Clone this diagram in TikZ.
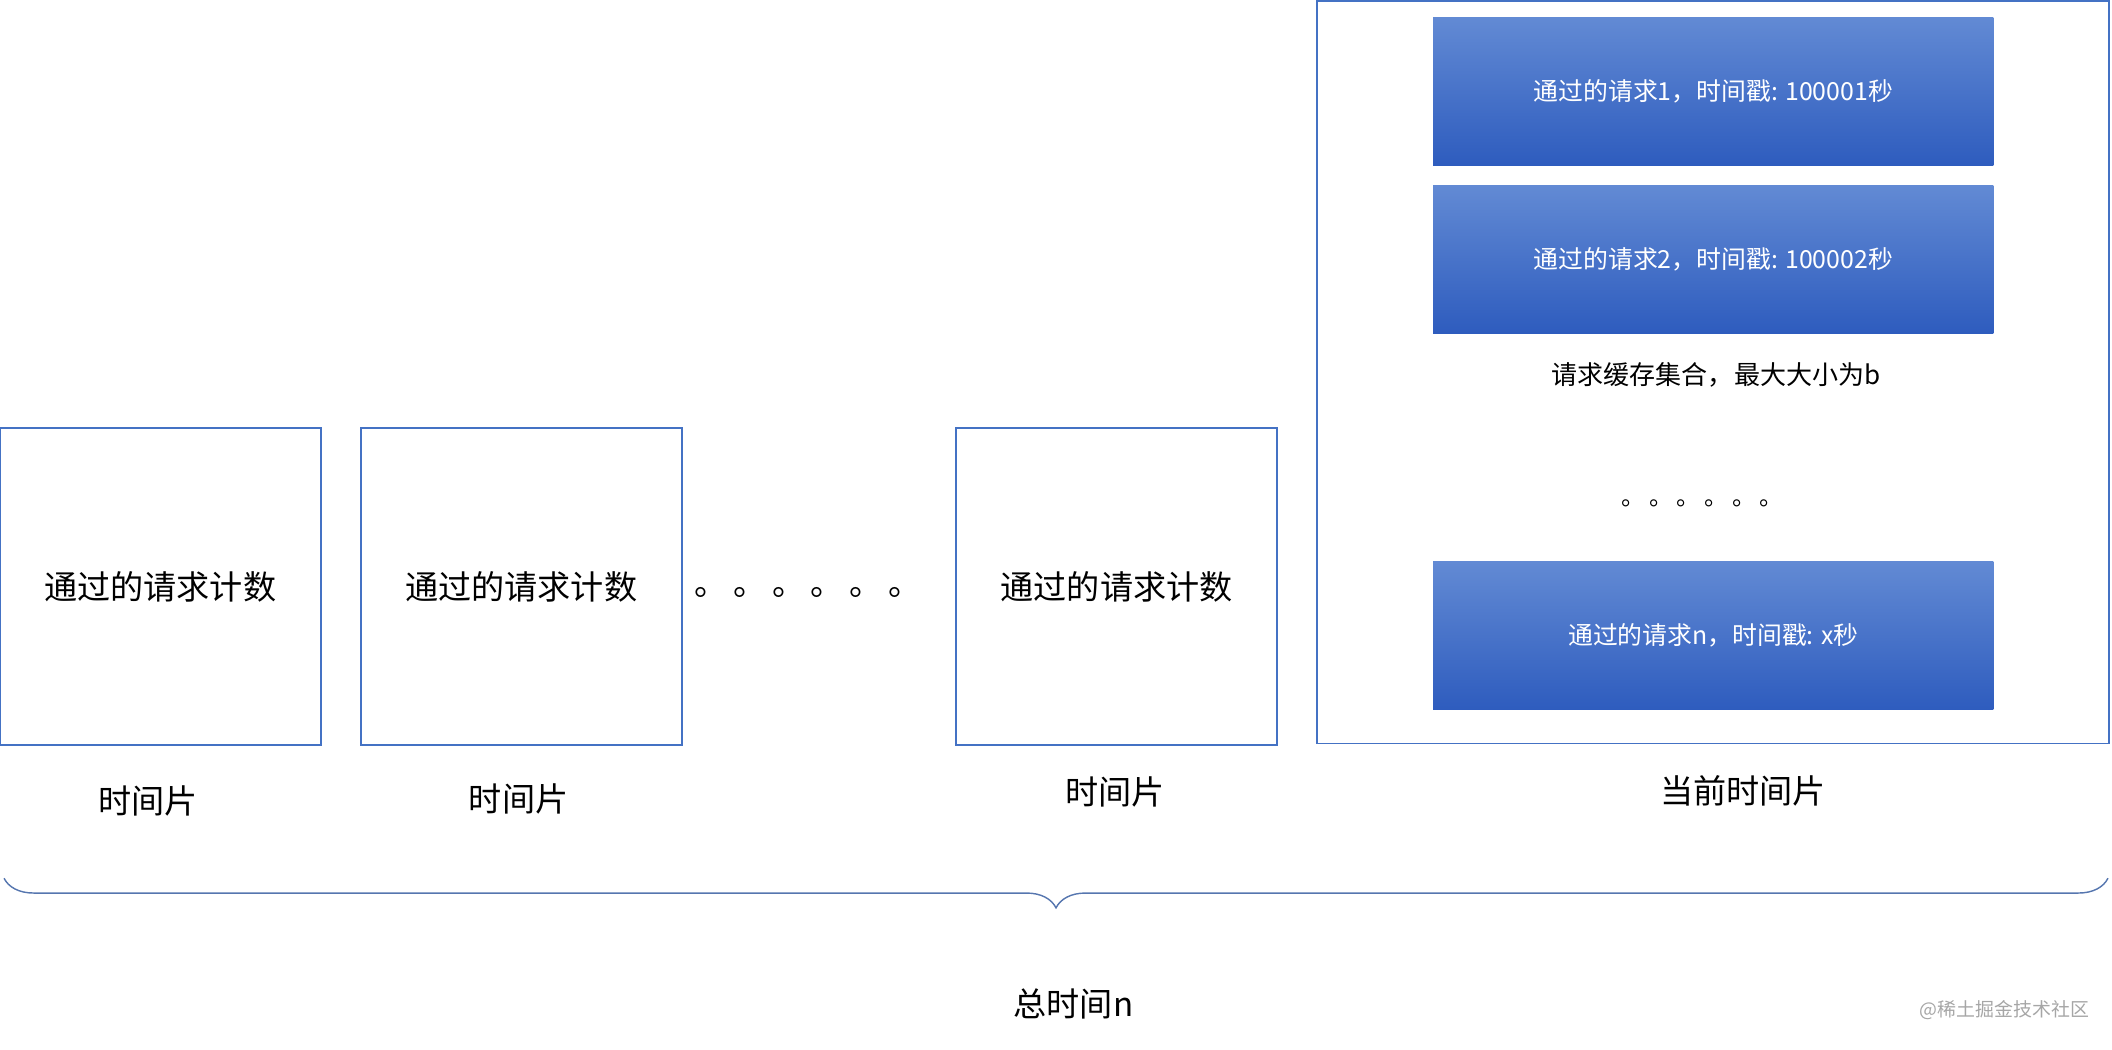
\documentclass[tikz,border=0pt]{standalone}
\usepackage{fontspec}
\setmainfont{Noto Sans CJK SC}
\usetikzlibrary{decorations.pathreplacing}
\definecolor{edgeblue}{RGB}{68,114,196}
\definecolor{bartop}{RGB}{98,138,212}
\definecolor{barbot}{RGB}{46,92,190}

\begin{document}
\begin{tikzpicture}[x=0.02cm,y=-0.02cm,
    slice/.style={draw=edgeblue,line width=0.8pt,minimum width=238*0.02cm,minimum height=235*0.02cm,font=\fontsize{14}{16}\selectfont},
    bar/.style={top color=bartop,bottom color=barbot,draw=none,minimum width=416*0.02cm,minimum height=110*0.02cm,text=white,font=\fontsize{10.5}{12}\selectfont},
    lbl/.style={font=\fontsize{14}{16}\selectfont}]
    \useasboundingbox (0,0) rectangle (1568,779);
    %time slices
    \node[slice] (s1) at (119,435.5) {通过的请求计数};
    \node[slice] (s2) at (387,435.5) {通过的请求计数};
    \node[slice] (s3) at (829,435.5) {通过的请求计数};
    \node[lbl] (d1) at (600,440) {。\,。\,。\,。\,。\,。};
    \node[lbl] (l1) at (110,595) {时间片};
    \node[lbl] (l2) at (385,593) {时间片};
    \node[lbl] (l3) at (828,588) {时间片};
    %current slice
    \draw[edgeblue,line width=0.8pt] (978,1) rectangle (1566,552);
    \node[bar] (r1) at (1272,68) {通过的请求1，时间戳: 100001秒};
    \node[bar] (r2) at (1272,192.5) {通过的请求2，时间戳: 100002秒};
    \node[bar] (rn) at (1272,472) {通过的请求n，时间戳: x秒};
    \node[font=\fontsize{11}{13}\selectfont] (set) at (1274,278) {请求缓存集合，最大大小为b};
    \node[font=\fontsize{10}{12}\selectfont] (d2) at (1264,374) {。\,。\,。\,。\,。\,。};
    \node[lbl] (cur) at (1294,587) {当前时间片};
    %total
    \draw[edgeblue!70!gray,line width=0.6pt,decorate,decoration={brace,mirror,amplitude=22*0.02cm}] (3,652) -- (1565,652);
    \node[lbl] (tot) at (797,745) {总时间n};
    \node[text=gray!70,font=\fontsize{8}{10}\selectfont] (wm) at (1488,750) {@稀土掘金技术社区};
\end{tikzpicture}
\end{document}
